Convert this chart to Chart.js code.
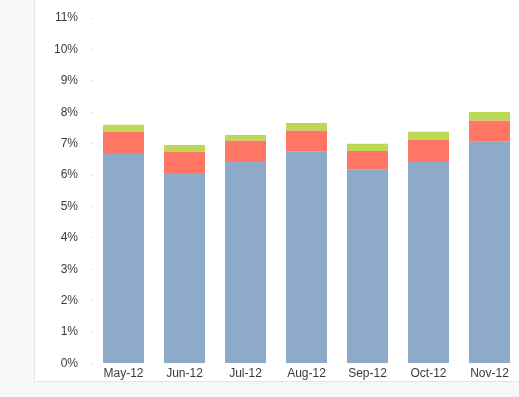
<!DOCTYPE html>
<html>
<head>
<meta charset="utf-8">
<script src="https://cdn.jsdelivr.net/npm/chart.js@4"></script>
<style>
  html, body { margin: 0; padding: 0; overflow: hidden; background: #f7f7f7; }
  #panel {
    position: absolute; left: 34px; top: 0; width: 485px; height: 381px;
    background: #ffffff; border-left: 1px solid #e4e4e4; border-bottom: 1px solid #e4e4e4;
  }
  #wrap { position: absolute; left: 0; top: 0; width: 520px; height: 397px; }
</style>
</head>
<body>
<div id="panel"></div>
<div id="wrap"><canvas id="chart"></canvas></div>
<script>
// months on the x axis
const months = ['May-12', 'Jun-12', 'Jul-12', 'Aug-12', 'Sep-12', 'Oct-12', 'Nov-12'];

// stacked series, in percent
const baseRate = [6.67, 6.07, 6.45, 6.74, 6.17, 6.42, 7.06];
const midRate = [0.71, 0.67, 0.64, 0.67, 0.60, 0.70, 0.67];
const topRate = [0.22, 0.22, 0.19, 0.25, 0.23, 0.26, 0.28];

const yMin = 0;
const yMax = 11;
const yStep = 1;

const tickFont = { family: '"Liberation Sans", Arial, sans-serif', size: 12 };
const tickColor = '#3a3a3a';

new Chart(document.getElementById('chart'), {
    type: 'bar',
    data: {
        labels: months,
        datasets: [
            { label: 'Base', data: baseRate, backgroundColor: '#8eaac9' },
            { label: 'Mid', data: midRate, backgroundColor: '#ff7664' },
            { label: 'Top', data: topRate, backgroundColor: '#bcd855' }
        ]
    },
    options: {
        responsive: true,
        maintainAspectRatio: false,
        animation: false,
        layout: { padding: { top: 18, left: 45, right: 0, bottom: 13 } },
        datasets: {
            bar: { categoryPercentage: 1, barPercentage: 0.672 }
        },
        scales: {
            x: {
                stacked: true,
                grid: { display: false, drawTicks: false },
                border: { display: false },
                ticks: { color: tickColor, font: tickFont, padding: 3, maxRotation: 0 }
            },
            y: {
                stacked: true,
                min: yMin,
                max: yMax,
                border: { display: false },
                grid: {
                    drawOnChartArea: false,
                    drawTicks: true,
                    tickLength: 6,
                    tickColor: '#c8c8c8',
                    tickBorderDash: [0, 5, 1, 100]
                },
                ticks: {
                    stepSize: yStep,
                    color: tickColor,
                    font: tickFont,
                    padding: 9,
                    callback: v => v + '%'
                }
            }
        },
        plugins: {
            legend: { display: false },
            tooltip: { enabled: false }
        }
    }
});
</script>
</body>
</html>
